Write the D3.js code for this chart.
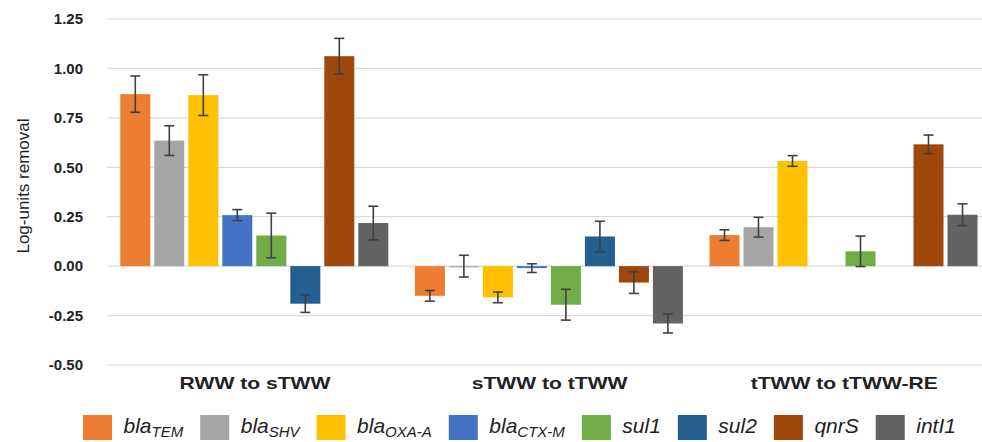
<!DOCTYPE html>
<html>
<head>
<meta charset="utf-8">
<script src="https://cdn.jsdelivr.net/npm/d3@7/dist/d3.min.js"></script>
<style>
  html, body { margin: 0; padding: 0; background: #fff; }
  svg { display: block; font-family: "Liberation Sans", Arial, sans-serif; }
</style>
</head>
<body>
<svg id="chart" width="982" height="442"></svg>
<script>
// ---- data ----
const categories = ["RWW to sTWW", "sTWW to tTWW", "tTWW to tTWW-RE"];
const seriesBase = ["bla", "bla", "bla", "bla", "sul1", "sul2", "qnrS", "intI1"];
const seriesSub  = ["TEM", "SHV", "OXA-A", "CTX-M", "", "", "", ""];
const seriesColors = ["#ED7D31", "#A5A5A5", "#FFC000", "#4472C4", "#70AD47", "#255E91", "#9E480E", "#636363"];
// values[series][category]
const values = [
  [0.87, -0.15, 0.157],
  [0.635, 0.00, 0.197],
  [0.865, -0.158, 0.532],
  [0.258, -0.01, null],
  [0.155, -0.195, 0.075],
  [-0.19, 0.15, null],
  [1.062, -0.083, 0.616],
  [0.218, -0.29, 0.26]
];
const errors = [
  [0.092, 0.027, 0.027],
  [0.075, 0.055, 0.05],
  [0.103, 0.027, 0.027],
  [0.028, 0.022, null],
  [0.113, 0.078, 0.077],
  [0.044, 0.077, null],
  [0.09, 0.055, 0.047],
  [0.085, 0.048, 0.055]
];
const yTicks = [-0.5, -0.25, 0, 0.25, 0.5, 0.75, 1.0, 1.25];

// ---- layout ----
const svg = d3.select("#chart");
const plotLeft = 107, groupW = 294.6;
const x0 = d3.scaleBand().domain(categories).range([plotLeft, plotLeft + groupW * categories.length]).padding(0);
const x1 = d3.scaleBand().domain(d3.range(seriesBase.length)).range([0, x0.bandwidth()])
  .paddingInner(0.1176).paddingOuter(0.391);
const y = d3.scaleLinear().domain([-0.5, 1.25]).range([365, 19]);

// gridlines
svg.append("g").selectAll("line").data(yTicks).join("line")
  .attr("x1", plotLeft).attr("x2", 982)
  .attr("y1", d => y(d)).attr("y2", d => y(d))
  .attr("stroke", "#d9d9d9").attr("stroke-width", 1.2);

// y axis labels
const fmt = d3.format(".2f");
const yAxis = d3.axisLeft(y).tickValues(yTicks).tickFormat(d => fmt(d).replace("\u2212", "-")).tickSize(0).tickPadding(0);
const yg = svg.append("g").attr("transform", "translate(83,0)").call(yAxis);
yg.select(".domain").remove();
yg.selectAll("text").attr("font-size", 15).attr("font-weight", "bold").attr("fill", "#222")
  .attr("font-family", "'Liberation Sans', Arial, sans-serif");

// y title
svg.append("text").attr("transform", "translate(29,186) rotate(-90)")
  .attr("text-anchor", "middle").attr("font-size", 17).attr("fill", "#222")
  .text("Log-units removal");

// bars
const flat = [];
values.forEach((row, s) => row.forEach((v, c) => {
  if (v !== null) flat.push({ s, c, v, e: errors[s][c] });
}));

const bars = svg.append("g");
bars.selectAll("rect").data(flat).join("rect")
  .attr("x", d => x0(categories[d.c]) + x1(d.s))
  .attr("width", x1.bandwidth())
  .attr("y", d => y(Math.max(0, d.v)))
  .attr("height", d => Math.max(1.2, Math.abs(y(d.v) - y(0))))
  .attr("fill", d => seriesColors[d.s]);

// error bars
const eb = svg.append("g").attr("stroke", "#404040").attr("stroke-width", 1.6);
flat.forEach(d => {
  if (d.e == null) return;
  const cx = x0(categories[d.c]) + x1(d.s) + x1.bandwidth() / 2;
  const yt = y(d.v + d.e), yb = y(d.v - d.e);
  eb.append("line").attr("x1", cx).attr("x2", cx).attr("y1", yt).attr("y2", yb);
  eb.append("line").attr("x1", cx - 5).attr("x2", cx + 5).attr("y1", yt).attr("y2", yt);
  eb.append("line").attr("x1", cx - 5).attr("x2", cx + 5).attr("y1", yb).attr("y2", yb);
});

// category labels (horizontally widened as in the source figure)
svg.append("g").selectAll("text").data(categories).join("text")
  .attr("transform", d => `translate(${x0(d) + 148},389) scale(1.32,1)`)
  .attr("text-anchor", "middle").attr("font-size", 16).attr("font-weight", "bold").attr("fill", "#222")
  .text(d => d);

// legend
const leg = svg.append("g");
const items = seriesBase.map((b, i) => {
  const g = leg.append("g");
  g.append("rect").attr("x", 0).attr("y", -12).attr("width", 29).attr("height", 25).attr("fill", seriesColors[i]);
  const t = g.append("text").attr("x", 40.5).attr("y", 6).attr("font-size", 21).attr("font-style", "italic").attr("fill", "#222");
  t.append("tspan").text(b);
  if (seriesSub[i]) t.append("tspan").attr("font-size", 15).attr("dy", 4).text(seriesSub[i]);
  const w = 40.5 + t.node().getComputedTextLength();
  return { g, w };
});
let lx = 83;
items.forEach(it => { it.g.attr("transform", `translate(${lx},427)`); lx += it.w + 17; });
</script>
</body>
</html>
